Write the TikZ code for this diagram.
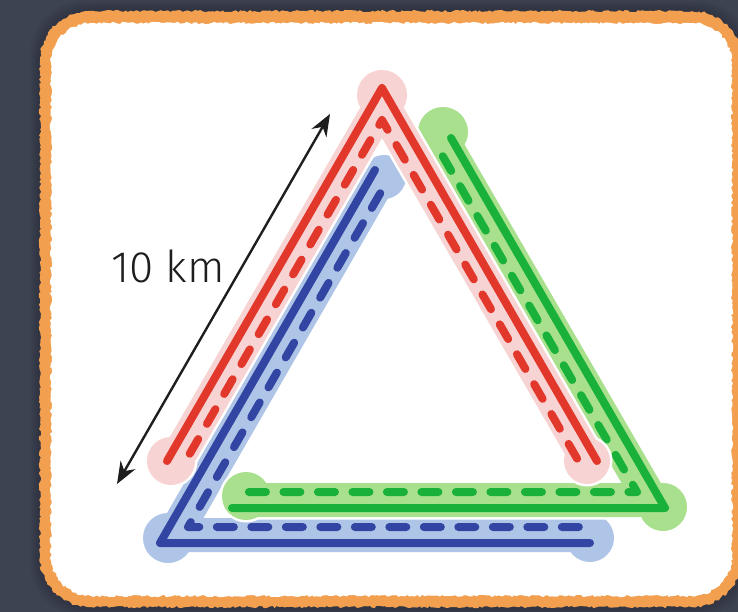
\documentclass[tikz,border=0pt]{standalone}
\usepackage{fontspec}
\newfontfamily\kmfont{Fira Sans Light}
\usetikzlibrary{arrows.meta, decorations.pathmorphing}

\definecolor{slate}{HTML}{3D4351}
\definecolor{cardedge}{HTML}{F2A050}
\definecolor{redline}{HTML}{E1382B}
\definecolor{redglow}{HTML}{F8D3D3}
\definecolor{blueline}{HTML}{3245A2}
\definecolor{blueglow}{HTML}{AFC5E7}
\definecolor{greenline}{HTML}{19B13A}
\definecolor{greenglow}{HTML}{A9E08D}
\definecolor{inkgray}{HTML}{1E1E1E}

% rounded box path: x1, y1, x2, y2, corner radius
\newcommand{\cardshape}[5]{({#1+#5},#2) -- ({#3-#5},#2) arc[start angle=90, end angle=0, radius=#5pt]
  -- (#3,{#4-#5}) arc[start angle=0, end angle=-90, radius=#5pt]
  -- ({#1+#5},#4) arc[start angle=-90, end angle=-180, radius=#5pt]
  -- (#1,{#2+#5}) arc[start angle=180, end angle=90, radius=#5pt] -- cycle}

\begin{document}
\begin{tikzpicture}[
  x=1pt, y=-1pt,
  solidline/.style={line width=8pt, line cap=round, line join=round},
  dashline/.style={solidline, dash pattern=on 17pt off 17.5pt, dash phase=25pt},
  glow/.style={line width=34pt, line cap=round, line join=round},
  rim/.style={white, line width=39pt, line cap=round, line join=round},
  measure/.style={{Stealth[length=22pt, width=17pt]}-{Stealth[length=22pt, width=17pt]}, line width=2.4pt, draw=inkgray},
  kmlabel/.style={font=\kmfont\fontsize{44}{48}\selectfont, text=inkgray, inner sep=0pt},
  rough/.style={decorate, decoration={random steps, segment length=2.5pt, amplitude=1.2pt}}
]
\pgfmathsetseed{11}

% -------------------------
% BACKGROUND AND CARD
% -------------------------
\useasboundingbox (0,0) rectangle (738,612);
\fill[slate] (0,0) rectangle (738,612);
\foreach \s in {2,4,...,10}
  \fill[black, opacity=0.035, rounded corners=54pt] (40-\s,11-\s) rectangle (742+\s,607+\s);
\fill[cardedge, rough] \cardshape{40}{11}{742}{607}{50};
\fill[white, rough] \cardshape{51}{23}{732}{596}{40};

% -------------------------
% BLUE ROUTE
% -------------------------
\fill[white] (384,177) circle[radius=25pt] (168,538) circle[radius=28pt] (590,538) circle[radius=27pt];
\draw[rim] (380,178) -- (174,535) -- (590,535);
\draw[glow, blueglow] (380,178) -- (174,535) -- (590,535);
\fill[blueglow] (384,177) circle[radius=22pt] (168,538) circle[radius=25pt] (590,538) circle[radius=24pt];
\draw[solidline, blueline] (375,170) -- (160,543) -- (590,543);
\draw[dashline, blueline] (385,185) -- (188,527) -- (585,527);

% -------------------------
% GREEN ROUTE
% -------------------------
\fill[white] (443,132) circle[radius=27.5pt] (663,507) circle[radius=26.5pt] (246,496) circle[radius=26.5pt];
\draw[rim] (444,143) -- (651,500) -- (240,500);
\draw[glow, greenglow] (444,143) -- (651,500) -- (240,500);
\fill[greenglow] (443,132) circle[radius=25pt] (663,507) circle[radius=24pt] (246,496) circle[radius=24pt];
\draw[solidline, greenline] (451,138) -- (665,508) -- (232,508);
\draw[dashline, greenline] (438,148) -- (637,492) -- (237,492);

% -------------------------
% RED ROUTE
% -------------------------
\fill[white] (171,461) circle[radius=26.5pt] (382,95) circle[radius=27.5pt] (587,461) circle[radius=25.5pt];
\draw[rim] (175,462) -- (382,104) -- (589,462);
\draw[glow, redglow] (175,462) -- (382,104) -- (589,462);
\fill[redglow] (171,461) circle[radius=24pt] (382,95) circle[radius=25pt] (587,461) circle[radius=23pt];
\draw[solidline, redline] (167,461) -- (382,88) -- (597,461);
\draw[dashline, redline] (185,462) -- (382,120) -- (579,462);

% -------------------------
% DISTANCE MARK
% -------------------------
\coordinate (tipLow) at (117,484);
\coordinate (tipHigh) at (330,114);
\draw[measure] (tipLow) -- (tipHigh);
\node[kmlabel, anchor=base west] (dist) at (111,282) {10 km};

\end{tikzpicture}
\end{document}
